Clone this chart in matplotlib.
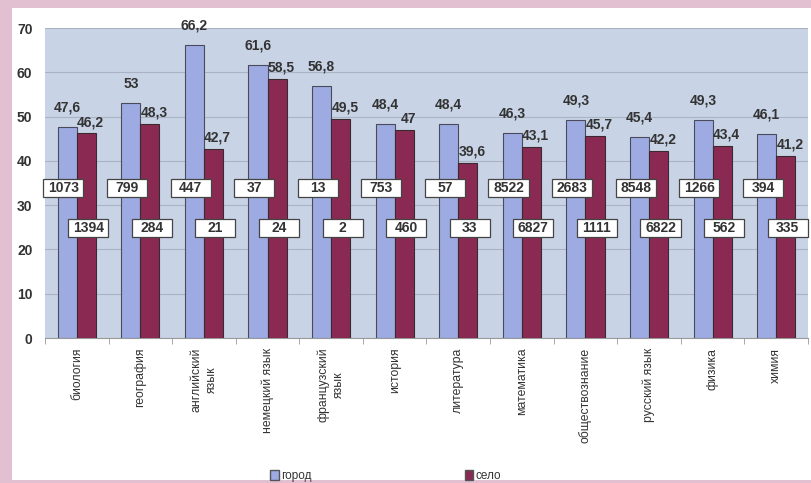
import matplotlib.pyplot as plt
import numpy as np
from matplotlib.patches import Rectangle, Patch

subjects = ['биология', 'география', 'английский\nязык', 'немецкий язык',
            'французский\nязык', 'история', 'литература', 'математика',
            'обществознание', 'русский язык', 'физика', 'химия']
city_scores = [47.6, 53, 66.2, 61.6, 56.8, 48.4, 48.4, 46.3, 49.3, 45.4, 49.3, 46.1]
village_scores = [46.2, 48.3, 42.7, 58.5, 49.5, 47, 39.6, 43.1, 45.7, 42.2, 43.4, 41.2]
city_counts = [1073, 799, 447, 37, 13, 753, 57, 8522, 2683, 8548, 1266, 394]
village_counts = [1394, 284, 21, 24, 2, 460, 33, 6827, 1111, 6822, 562, 335]

plt.rcParams['font.family'] = ['Liberation Sans', 'DejaVu Sans']

blue = '#9dabe2'
wine = '#8a2a52'
width = 0.3
box_w, box_h = 0.63, 4.2   # count boxes, in data units


def fmt(v):
    return f'{v:g}'.replace('.', ',')


def count_box(ax, cx, cy, n):
    ax.add_patch(Rectangle((cx - box_w / 2, cy - box_h / 2), box_w, box_h,
                           facecolor='white', edgecolor='#444444', lw=0.9,
                           zorder=6, clip_on=False))
    ax.text(cx, cy, str(n), ha='center', va='center', fontsize=10,
            fontweight='bold', color='#333333', zorder=7)


fig = plt.figure(figsize=(8.12, 4.83), dpi=100, facecolor='#e3bfd2')
# white slide area inside the pink border
fig.patches.append(Rectangle((12 / 812, 3 / 483), 1, 1 - 11 / 483,
                             transform=fig.transFigure, facecolor='white',
                             edgecolor='none', zorder=-10))

ax = fig.add_axes([45 / 812, 145 / 483, 763 / 812, 310 / 483])
ax.set_facecolor('#c8d4e6')

x = np.arange(len(subjects))
ax.bar(x - width / 2, city_scores, width=width, color=blue, edgecolor='#4a4a5a',
       linewidth=0.8, zorder=3)
ax.bar(x + width / 2, village_scores, width=width, color=wine, edgecolor='#3a2a30',
       linewidth=0.8, zorder=3)

for i in range(len(subjects)):
    ax.annotate(fmt(city_scores[i]), (x[i] - width / 2, city_scores[i]),
                xytext=(0, 9), textcoords='offset points', ha='center', va='bottom',
                fontsize=10, fontweight='bold', color='#333333', zorder=5)
    ax.annotate(fmt(village_scores[i]), (x[i] + width / 2, village_scores[i]),
                xytext=(3, 3), textcoords='offset points', ha='center', va='bottom',
                fontsize=10, fontweight='bold', color='#333333', zorder=5)
    count_box(ax, x[i] - width / 2 - 0.06, 33.9, city_counts[i])
    count_box(ax, x[i] + width / 2 + 0.03, 24.8, village_counts[i])

ax.set_xlim(-0.5, len(subjects) - 0.5)
ax.set_ylim(0, 70)
ax.set_yticks(np.arange(0, 71, 10))
ax.yaxis.grid(True, color='#aab3c4', linewidth=0.8, zorder=0)
ax.set_axisbelow(True)

ax.set_xticks(x)
ax.set_xticklabels(subjects, rotation=90, fontsize=8.8, color='#333333',
                   va='top', ha='center', linespacing=1.4)
ax.set_xticks(np.arange(-0.5, len(subjects), 1), minor=True)
ax.tick_params(axis='x', which='major', length=0, pad=7)
ax.tick_params(axis='x', which='minor', length=4, color='#999999')
ax.tick_params(axis='y', length=0, pad=9, labelsize=10, labelcolor='#333333')
for lbl in ax.get_yticklabels():
    lbl.set_fontweight('bold')

for side in ['top', 'right', 'left']:
    ax.spines[side].set_visible(False)
ax.spines['bottom'].set_color('#999999')

handles = [Patch(facecolor=blue, edgecolor='#555555', label='город'),
           Patch(facecolor=wine, edgecolor='#555555', label='село')]
fig.legend(handles=handles, loc='center', bbox_to_anchor=(0.475, 0.014), ncol=2,
           frameon=False, fontsize=8.5, handlelength=0.7, handleheight=0.9,
           handletextpad=0.2, columnspacing=13, labelcolor='#333333')

fig.savefig('out.png', dpi=100, facecolor=fig.get_facecolor())
